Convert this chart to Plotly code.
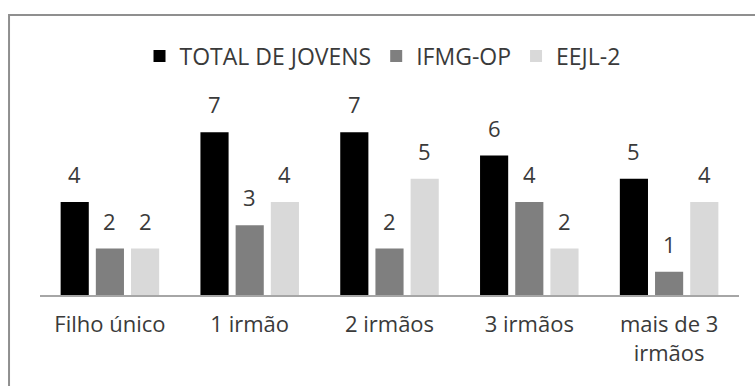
import plotly.graph_objects as go

# Número de irmãos dos jovens entrevistados
categorias = ["Filho único", "1 irmão", "2 irmãos", "3 irmãos", "mais de 3<br>irmãos"]
total_jovens = [4, 7, 7, 6, 5]
ifmg_op = [2, 3, 2, 4, 1]
eejl_2 = [2, 4, 5, 2, 4]

nomes_series = ["TOTAL DE JOVENS", "IFMG-OP", "EEJL-2"]
cores = ["#000000", "#7f7f7f", "#d9d9d9"]
valores_series = [total_jovens, ifmg_op, eejl_2]

FONTE = "Open Sans"
COR_TEXTO = "#3a3a3a"
LARGURA, ALTURA = 755, 386
MARGEM = dict(l=40, r=16, t=109, b=91)
BARGAP = 0.245
BARGROUPGAP = 0.2

fig = go.Figure()
for nome, cor, vals in zip(nomes_series, cores, valores_series):
    fig.add_trace(go.Bar(
        x=categorias, y=vals, name=nome,
        marker=dict(color=cor, line=dict(width=0)),
    ))

# Rótulos de valor acima de cada barra, posicionados pela largura de cada faixa do grupo
largura_plot = LARGURA - MARGEM["l"] - MARGEM["r"]
faixa = largura_plot / len(categorias) * (1 - BARGAP) / len(nomes_series)
anotacoes = []
for k, vals in enumerate(valores_series):
    desloc = (k - (len(nomes_series) - 1) / 2) * faixa
    for cat, v in zip(categorias, vals):
        anotacoes.append(dict(
            x=cat, y=v, xref="x", yref="y", text=str(v), showarrow=False,
            xshift=desloc, yshift=28, yanchor="middle", xanchor="center",
            font=dict(family=FONTE, size=22, color=COR_TEXTO),
        ))

fig.update_layout(
    width=LARGURA, height=ALTURA,
    margin=MARGEM,
    paper_bgcolor="white", plot_bgcolor="white",
    barmode="group", bargap=BARGAP, bargroupgap=BARGROUPGAP,
    font=dict(family=FONTE, size=22, color=COR_TEXTO),
    showlegend=True,
    legend=dict(
        orientation="h", x=0.49, xanchor="center", y=1.285, yanchor="middle",
        font=dict(family=FONTE, size=23, color=COR_TEXTO),
        bgcolor="rgba(0,0,0,0)",
    ),
    annotations=anotacoes,
    shapes=[dict(
        type="rect", xref="paper", yref="paper",
        x0=-0.0443, x1=1.2, y0=-1.0, y1=1.505,
        line=dict(color="#8f8f8f", width=2), fillcolor="rgba(0,0,0,0)", layer="below",
    )],
)
fig.update_xaxes(
    showline=True, linecolor="#a6a6a6", linewidth=2, ticks="",
    showgrid=False, zeroline=False,
    tickfont=dict(family=FONTE, size=22, color=COR_TEXTO),
    ticklabelstandoff=9,
)
fig.update_yaxes(range=[0, 8], visible=False, showgrid=False, zeroline=False)

fig.write_html("out.html")
